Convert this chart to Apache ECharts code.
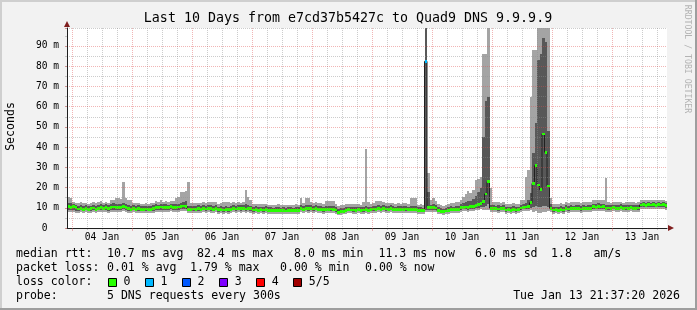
<!DOCTYPE html>
<html><head><meta charset="utf-8">
<script src="https://cdn.jsdelivr.net/npm/echarts@6/dist/echarts.min.js"></script>
<style>html,body{margin:0;padding:0;background:#f2f2f2}#c{width:697px;height:310px}</style>
</head><body><div id="c"></div>
<script>
// ---- data (one value per hour, starting Jan 03 22:00) ----
const dayLabels = ['04 Jan','05 Jan','06 Jan','07 Jan','08 Jan','09 Jan','10 Jan','11 Jan','12 Jan','13 Jan'];
const medianRtt = [10.5,10.2,
 10.6,10.0,9.4,9.8,9.2,9.6,9.1,9.5,9.9,9.3,9.8,10.1,9.6,10.0,9.7,10.2,10.4,10.0,10.3,10.1,10.5,10.2,9.5,9.3,
 9.6,9.2,9.5,9.2,9.0,9.4,9.1,9.3,9.6,10.2,10.0,10.4,10.1,10.3,10.0,10.5,10.2,10.1,10.4,10.6,10.9,10.8,9.3,9.1,
 9.4,9.2,9.5,9.3,9.6,9.4,9.7,9.5,9.3,9.6,9.0,9.2,8.9,9.1,9.0,9.3,9.6,9.4,9.8,9.5,9.7,9.4,9.6,9.5,
 8.9,9.1,8.8,9.0,8.9,9.2,8.6,8.7,8.5,8.6,8.8,8.5,8.6,8.4,8.7,8.6,8.5,8.8,8.6,9.6,9.3,9.7,9.5,9.8,
 9.4,9.6,9.3,9.2,9.0,9.3,9.1,9.4,9.2,8.9,7.8,8.0,8.3,8.8,9.0,8.9,8.9,8.8,9.0,8.7,8.9,9.1,8.8,9.0,
 9.4,9.2,9.5,9.3,9.6,9.4,9.3,9.5,9.2,9.0,9.3,9.1,9.2,9.4,9.0,9.2,9.1,9.3,8.6,8.7,8.5,82.4,10.2,10.0,
 10.3,9.9,8.6,8.3,8.0,8.4,8.7,9.2,9.0,9.3,9.1,10.0,10.2,10.4,10.1,10.5,10.8,11.0,11.6,12.2,13.0,16.8,22.9,9.8,
 9.5,9.7,9.4,9.6,9.5,8.9,9.0,8.8,9.1,8.9,9.0,9.9,10.3,10.4,10.8,12.5,22.0,30.8,21.3,19.0,46.5,37.5,20.8,9.6,
 8.9,9.0,8.8,9.1,8.9,9.6,9.4,9.7,9.5,9.8,9.6,9.4,9.7,9.5,9.6,9.8,10.5,10.3,10.6,10.4,10.5,9.8,9.9,9.6,
 10.0,9.7,9.8,10.1,9.6,9.9,9.7,10.0,9.8,9.6,9.9,11.4,11.5,11.3,11.6,11.4,11.5,11.3,11.6,11.4,11.5,11.0];
const pingMin = [8.0,7.8,
 7.9,7.6,7.5,7.8,7.4,7.7,7.5,7.6,7.8,7.4,7.9,8.0,7.7,7.9,7.6,8.1,8.0,7.8,8.1,7.9,8.2,7.9,7.6,7.4,
 7.7,7.4,7.6,7.3,7.2,7.5,7.3,7.4,7.6,8.0,7.8,8.1,7.9,8.0,7.8,8.2,7.9,7.8,8.1,8.2,8.4,8.3,7.4,7.2,
 7.5,7.3,7.6,7.4,7.7,7.5,7.8,7.6,7.4,7.7,7.1,7.3,7.0,7.2,7.1,7.4,7.7,7.5,7.8,7.6,7.8,7.5,7.7,7.6,
 7.1,7.3,7.0,7.2,7.1,7.4,6.9,7.0,6.8,6.9,7.1,6.8,6.9,6.7,7.0,6.9,6.8,7.1,6.9,7.7,7.5,7.8,7.6,7.9,
 7.5,7.7,7.4,7.3,7.1,7.4,7.2,7.5,7.3,7.0,6.4,6.6,6.9,7.1,7.3,7.2,7.1,7.0,7.2,6.9,7.1,7.3,7.0,7.2,
 7.6,7.4,7.7,7.5,7.8,7.6,7.5,7.7,7.4,7.2,7.5,7.3,7.4,7.6,7.2,7.4,7.3,7.5,7.0,7.1,6.9,7.8,8.0,7.9,
 8.0,7.8,7.0,6.7,6.5,6.8,7.0,7.4,7.2,7.5,7.3,8.0,8.2,8.3,8.1,8.4,8.6,8.8,9.0,9.2,8.8,8.9,9.0,7.9,
 7.7,7.9,7.6,7.8,7.7,7.1,7.2,7.0,7.3,7.1,7.2,7.8,8.2,8.3,8.5,8.8,8.0,8.2,7.6,7.4,7.8,8.0,8.4,7.8,
 7.1,7.2,7.0,7.3,7.1,7.8,7.6,7.9,7.7,8.0,7.8,7.6,7.9,7.7,7.8,8.0,8.5,8.3,8.6,8.4,8.5,8.0,8.1,7.8,
 8.2,7.9,8.0,8.3,7.8,8.1,7.9,8.2,8.0,7.8,8.1,9.4,9.5,9.3,9.6,9.4,9.5,9.3,9.6,9.4,9.5,9.0];
const pingLow = [9.0,8.8,
 8.9,8.6,8.5,8.8,8.4,8.7,8.4,8.6,8.8,8.5,8.9,9.0,8.7,8.9,8.6,9.1,9.0,8.8,9.1,8.9,9.2,8.9,8.6,8.4,
 8.7,8.4,8.6,8.3,8.2,8.5,8.3,8.4,8.6,9.0,8.8,9.1,8.9,9.0,8.8,9.2,8.9,8.8,9.1,9.2,9.4,9.3,8.4,8.2,
 8.5,8.3,8.6,8.4,8.7,8.5,8.8,8.6,8.4,8.7,8.1,8.3,8.0,8.2,8.1,8.4,8.7,8.5,8.8,8.6,8.8,8.5,8.7,8.6,
 8.1,8.3,8.0,8.2,8.1,8.4,7.9,8.0,7.8,7.9,8.1,7.8,7.9,7.7,8.0,7.9,7.8,8.1,7.9,8.7,8.5,8.8,8.6,8.9,
 8.5,8.7,8.4,8.3,8.1,8.4,8.2,8.5,8.3,8.0,7.2,7.4,7.8,8.1,8.3,8.2,8.1,8.0,8.2,7.9,8.1,8.3,8.0,8.2,
 8.6,8.4,8.7,8.5,8.8,8.6,8.5,8.7,8.4,8.2,8.5,8.3,8.4,8.6,8.2,8.4,8.3,8.5,7.9,8.0,7.8,9.0,9.0,8.9,
 9.0,8.8,7.9,7.6,7.4,7.7,8.0,8.4,8.2,8.5,8.3,9.0,9.2,9.3,9.1,9.4,9.6,9.8,10.0,10.3,10.5,11.0,11.8,8.9,
 8.7,8.9,8.6,8.8,8.7,8.1,8.2,8.0,8.3,8.1,8.2,8.8,9.2,9.3,9.5,10.0,10.5,11.0,10.2,10.5,11.0,10.8,10.2,8.8,
 8.1,8.2,8.0,8.3,8.1,8.8,8.6,8.9,8.7,9.0,8.8,8.6,8.9,8.7,8.8,9.0,9.5,9.3,9.6,9.4,9.5,9.0,9.1,8.8,
 9.2,8.9,9.0,9.3,8.8,9.1,8.9,9.2,9.0,8.8,9.1,10.4,10.5,10.3,10.6,10.4,10.5,10.3,10.6,10.4,10.5,10.1];
const pingHigh = [12.5,12.3,
 12.0,11.5,11.0,11.4,10.9,11.2,10.8,11.1,11.5,10.9,11.6,12.0,11.3,11.7,11.2,12.0,12.2,11.8,12.1,11.9,12.3,12.0,11.2,11.0,
 11.3,10.9,11.2,10.8,10.7,11.0,10.8,11.0,11.3,11.8,11.5,12.0,11.7,11.9,11.6,12.1,11.8,11.7,12.0,12.5,13.0,13.5,11.0,10.8,
 11.1,10.9,11.2,11.0,11.3,11.1,11.4,11.2,11.0,11.3,10.6,10.8,10.5,10.7,10.6,10.9,11.3,11.1,11.4,11.2,11.4,12.0,11.3,11.1,
 10.5,10.7,10.4,10.6,10.5,10.8,10.2,10.3,10.1,10.2,10.4,10.1,10.2,10.0,10.3,10.2,10.1,10.4,10.2,11.3,11.0,11.4,11.2,11.5,
 11.0,11.3,10.9,10.8,10.6,10.9,10.7,11.0,10.8,10.5,9.6,9.8,10.1,10.4,10.6,10.5,10.5,10.4,10.6,10.3,10.5,10.9,10.4,10.6,
 11.1,10.8,11.2,10.9,11.3,11.0,10.9,11.2,10.8,10.6,10.9,10.7,10.8,11.0,10.6,10.8,10.7,10.9,10.2,10.3,10.1,98.9,18.0,11.5,
 12.0,11.6,10.2,9.9,9.6,10.0,10.3,10.8,10.6,10.9,10.7,12.0,12.5,13.0,13.5,13.5,14.5,16.0,18.0,20.0,45.0,63.0,65.0,11.5,
 11.4,11.1,11.3,11.0,11.2,10.5,10.6,10.4,10.7,10.5,10.6,11.5,12.0,12.5,14.0,17.5,37.0,52.0,83.0,86.0,94.0,92.0,48.0,12.0,
 10.5,10.6,10.4,10.7,10.5,11.2,11.0,11.3,11.1,11.4,11.2,11.0,11.3,11.1,11.2,11.4,12.1,11.9,12.2,12.0,12.1,11.5,11.6,11.2,
 11.6,11.3,11.4,11.7,11.2,11.5,11.3,11.6,11.4,11.2,11.5,12.6,12.7,12.5,12.8,12.6,12.7,12.5,12.8,12.6,12.7,12.3];
const pingMax = [15.2,15.0,
 13.0,12.6,12.4,12.8,12.2,12.5,12.1,12.4,12.9,12.3,13.0,13.3,12.6,13.0,12.5,13.8,13.8,14.7,14.7,14.5,22.9,14.7,13.8,13.8,
 12.6,12.2,12.5,12.0,11.9,12.3,12.0,12.2,12.6,13.2,12.9,13.8,13.1,13.3,13.0,13.5,13.2,15.0,15.5,18.0,18.0,18.5,22.9,12.2,
 12.4,12.2,12.6,12.3,12.7,12.5,12.8,13.0,13.0,13.0,12.0,12.2,13.0,13.0,13.0,12.3,12.8,12.5,12.9,12.6,12.8,18.8,15.5,14.0,
 11.8,12.0,11.7,11.9,11.8,12.1,11.5,11.6,11.4,11.5,11.7,11.4,11.5,11.3,11.6,11.5,11.4,11.7,11.5,14.7,12.5,14.7,14.7,12.8,
 12.4,12.7,12.3,12.2,12.0,13.5,13.5,13.5,13.2,11.9,11.0,11.2,11.5,11.8,12.0,11.9,11.8,11.7,11.9,11.6,13.0,39.0,13.0,12.0,
 12.5,13.2,13.2,13.2,12.7,12.4,12.3,12.6,12.2,12.0,12.3,12.1,12.2,12.4,12.0,14.7,14.7,14.7,11.6,11.7,11.5,98.9,27.0,14.0,
 15.0,13.5,11.8,11.4,11.1,11.5,11.8,12.5,12.3,13.0,12.8,14.0,15.5,17.0,18.5,17.5,19.0,23.5,24.0,25.0,86.0,86.0,98.9,20.0,
 13.0,12.7,12.9,12.6,12.8,12.0,12.1,11.9,12.2,12.0,12.1,14.0,13.8,25.0,28.7,65.0,88.0,88.0,98.9,98.9,98.9,98.9,98.9,14.7,
 12.0,12.1,11.9,12.2,12.0,12.8,12.6,12.9,12.7,13.0,12.8,12.6,12.9,12.7,12.8,13.0,13.8,13.6,13.9,13.7,13.8,24.5,13.0,12.6,
 13.0,12.7,12.8,13.1,12.6,12.9,12.7,13.0,12.8,12.6,12.9,13.8,13.9,13.7,14.0,13.8,13.9,13.7,14.0,13.8,13.9,13.5];
const lossCount = [0,0,
 0,0,0,0,0,0,0,0,0,0,0,0,0,0,0,0,0,0,0,0,0,0,0,0,
 0,0,0,0,0,0,0,0,0,0,0,0,0,0,0,0,0,0,0,0,0,0,0,0,
 0,0,0,0,0,0,0,0,0,0,0,0,0,0,0,0,0,0,0,0,0,0,0,0,
 0,0,0,0,0,0,0,0,0,0,0,0,0,0,0,0,0,0,0,0,0,0,0,0,
 0,0,0,0,0,0,0,0,0,0,0,0,0,0,0,0,0,0,0,0,0,0,0,0,
 0,0,0,0,0,0,0,0,0,0,0,0,0,0,0,0,0,0,0,0,0,1,0,0,
 0,0,0,0,0,0,0,0,0,0,0,0,0,0,0,0,0,0,0,0,0,0,0,0,
 0,0,0,0,0,0,0,0,0,0,0,0,0,0,0,0,0,0,0,0,0,0,0,0,
 0,0,0,0,0,0,0,0,0,0,0,0,0,0,0,0,0,0,0,0,0,0,0,0,
 0,0,0,0,0,0,0,0,0,0,0,0,0,0,0,0,0,0,0,0,0,0];
const lossColors = ['#26ff00','#00b8ff','#0059ff','#7e00ff','#ff0000','#a10000'];
const lossLabels = ['0','1','2','3','4','5/5'];
const titleText = 'Last 10 Days from e7cd37b5427c to Quad9 DNS 9.9.9.9';
const medianStats = ['10.7 ms avg','82.4 ms max','8.0 ms min','11.3 ms now','6.0 ms sd','1.8','am/s'];
const lossStats = ['0.01 % avg','1.79 % max','0.00 % min','0.00 % now'];
const probeText = '5 DNS requests every 300s';
const stampText = 'Tue Jan 13 21:37:20 2026';

// ---- styles ----
const MONO = '"DejaVu Sans Mono"';
const LIGHT = '#a4a4a4', DARK = '#585858', MEDLINE = '#202020';
const GRID = 'rgba(143,143,143,0.45)', MGRID = 'rgba(222,79,79,0.42)';
const ARROW = '#801f1f', AXIS = '#1f1f1f';
const HALF = 0.7;

const hours = medianRtt.map((_, i) => i);
const axisCats = hours.map(String).concat([String(hours.length)]);
const smokeData = hours.map(i => [i, pingMin[i], pingLow[i], pingHigh[i], pingMax[i]]);
const medData = hours.map(i => [i, medianRtt[i], lossCount[i]]);
const medStep = medianRtt.concat([medianRtt[medianRtt.length - 1]]);

const isMidnight = idx => idx % 24 === 2;
const isSixHour = idx => idx % 6 === 2 && idx % 24 !== 2;
const isNoon = idx => idx % 24 === 14;

const yGridColors = [];
for (let k = 0; k <= 20; k++) yGridColors.push(k === 19 ? 'rgba(0,0,0,0)' : (k === 20 ? GRID : (k % 2 === 0 ? MGRID : GRID)));

function renderSmoke(params, api) {
  const i = api.value(0);
  const xa = Math.round(api.coord([i, 0])[0]);
  const xb = Math.round(api.coord([i + 1, 0])[0]);
  const yy = v => Math.round(api.coord([i, v])[1]);
  const y1 = yy(api.value(1)), y2 = yy(api.value(2)), y3 = yy(api.value(3)), y4 = yy(api.value(4));
  return {type: 'group', children: [
    {type: 'rect', shape: {x: xa, y: y4, width: xb - xa, height: y1 - y4}, style: {fill: LIGHT}},
    {type: 'rect', shape: {x: xa, y: y3, width: xb - xa, height: y2 - y3}, style: {fill: DARK}}
  ]};
}
function renderMedian(params, api) {
  const i = api.value(0), m = api.value(1), loss = api.value(2);
  const xa = Math.round(api.coord([i, 0])[0]);
  const xb = Math.round(api.coord([i + 1, 0])[0]);
  const yt = Math.round(api.coord([i, m + HALF])[1]);
  const yb = Math.round(api.coord([i, m - HALF])[1]);
  return {type: 'rect', shape: {x: xa, y: yt, width: xb - xa, height: Math.max(2, yb - yt)}, style: {fill: lossColors[loss]}};
}

function txt(x, y, s, opts) {
  opts = opts || {};
  const a = opts.align || 'left';
  return {type: 'text', x: x, y: y, rotation: opts.rotation || 0, silent: true, z: 20,
    style: {text: s, font: (opts.size || 11.56) + 'px ' + MONO, fill: opts.color || '#000',
      align: a, textAlign: a, verticalAlign: 'middle', textVerticalAlign: 'middle'}};
}

const graphics = [
  {type: 'rect', shape: {x: 0, y: 0, width: 697, height: 2}, style: {fill: '#cfcfcf'}, silent: true},
  {type: 'rect', shape: {x: 0, y: 0, width: 2, height: 310}, style: {fill: '#cfcfcf'}, silent: true},
  {type: 'rect', shape: {x: 0, y: 308, width: 697, height: 2}, style: {fill: '#9e9e9e'}, silent: true},
  {type: 'rect', shape: {x: 695, y: 0, width: 2, height: 310}, style: {fill: '#9e9e9e'}, silent: true},
  txt(348, 19, titleText, {align: 'center', size: 13.3}),
  txt(10.5, 126.5, 'Seconds', {align: 'center', rotation: Math.PI / 2}),
  txt(687.5, 59, 'RRDTOOL / TOBI OETIKER', {align: 'center', rotation: -Math.PI / 2, size: 8.2, color: '#b3b3b3'})
];
const r1 = 254.3, r2 = 268.3, r3 = 282.3, r4 = 296.3;
graphics.push(txt(16, r1, 'median rtt:'));
[107, 197, 294, 378.5, 475, 551, 593.5].forEach((x, k) => graphics.push(txt(x, r1, medianStats[k])));
graphics.push(txt(16, r2, 'packet loss:'));
[107, 190, 280, 365].forEach((x, k) => graphics.push(txt(x, r2, lossStats[k])));
graphics.push(txt(16, r3, 'loss color:'));
lossColors.forEach((c, k) => {
  const bx = Math.round(108 + 37.06 * k);
  graphics.push({type: 'rect', silent: true, z: 20, shape: {x: bx + 0.5, y: 278.5, width: 8, height: 8}, style: {fill: c, stroke: '#000', lineWidth: 1}});
  graphics.push(txt(123.5 + 37.06 * k, r3, lossLabels[k]));
});
graphics.push(txt(16, r4, 'probe:'));
graphics.push(txt(107, r4, probeText));
graphics.push(txt(680, r4, stampText, {align: 'right'}));

const chart = echarts.init(document.getElementById('c'), null, {renderer: 'canvas', width: 697, height: 310});
chart.setOption({
  animation: false,
  backgroundColor: '#f2f2f2',
  textStyle: {fontFamily: 'DejaVu Sans Mono'},
  grid: {left: 67, top: 28, width: 600, height: 200, show: true, backgroundColor: '#ffffff', borderWidth: 0, containLabel: false},
  xAxis: [
    {type: 'category', data: axisCats, boundaryGap: false, position: 'bottom', z: 6,
      axisLine: {show: true, onZero: false, lineStyle: {color: AXIS, width: 1}},
      axisTick: {show: true, length: 3, interval: isMidnight, lineStyle: {color: MGRID}},
      axisLabel: {show: true, interval: isNoon, margin: 4, color: '#000', fontFamily: 'DejaVu Sans Mono', fontSize: 9.6,
        formatter: (v, idx) => dayLabels[(idx - 14) / 24] || ''},
      splitLine: {show: true, interval: isMidnight, lineStyle: {color: MGRID, width: 1, type: [1, 1]}}},
    {type: 'category', data: axisCats, boundaryGap: false, position: 'bottom', z: 5,
      axisLine: {show: true, onZero: false, lineStyle: {color: ARROW, width: 0}, symbol: ['none', 'triangle'], symbolSize: [6, 6], symbolOffset: [0, 4]},
      axisTick: {show: true, length: 2, interval: isSixHour, lineStyle: {color: GRID}},
      axisLabel: {show: false},
      splitLine: {show: true, interval: isSixHour, lineStyle: {color: GRID, width: 1, type: [1, 1]}}}
  ],
  yAxis: [
    {type: 'value', min: 0, max: 98.9, interval: 5, position: 'left', z: 6,
      axisLine: {show: true, lineStyle: {color: AXIS, width: 1}},
      axisTick: {show: true, length: 2, lineStyle: {color: GRID}},
      axisLabel: {show: true, margin: 8, color: '#000', fontFamily: 'DejaVu Sans Mono', fontSize: 9.6,
        formatter: v => (Math.abs(v % 10) > 1e-6 || v > 90.5) ? '' : (v === 0 ? '0  ' : v + ' m')},
      splitLine: {show: true, lineStyle: {color: yGridColors, width: 1, type: [1, 1]}}},
    {type: 'value', min: 0, max: 98.9, interval: 10, position: 'left', z: 7,
      axisLine: {show: true, lineStyle: {color: ARROW, width: 0}, symbol: ['none', 'triangle'], symbolSize: [6, 6], symbolOffset: [0, 4]},
      axisTick: {show: true, length: 2, lineStyle: {color: MGRID}},
      axisLabel: {show: false}, splitLine: {show: false}}
  ],
  series: [
    {type: 'custom', name: 'smoke', xAxisIndex: 0, yAxisIndex: 0, renderItem: renderSmoke, data: smokeData,
      encode: {x: 0, y: [1, 2, 3, 4]}, z: 1, silent: true, clip: true},
    {type: 'line', name: 'median', xAxisIndex: 0, yAxisIndex: 0, data: medStep, step: 'end', showSymbol: false, symbol: 'none',
      lineStyle: {color: MEDLINE, width: 1}, z: 2, silent: true},
    {type: 'custom', name: 'loss', xAxisIndex: 0, yAxisIndex: 0, renderItem: renderMedian, data: medData,
      encode: {x: 0, y: 1}, z: 3, silent: true, clip: true}
  ],
  graphic: graphics
});
</script>
</body></html>
